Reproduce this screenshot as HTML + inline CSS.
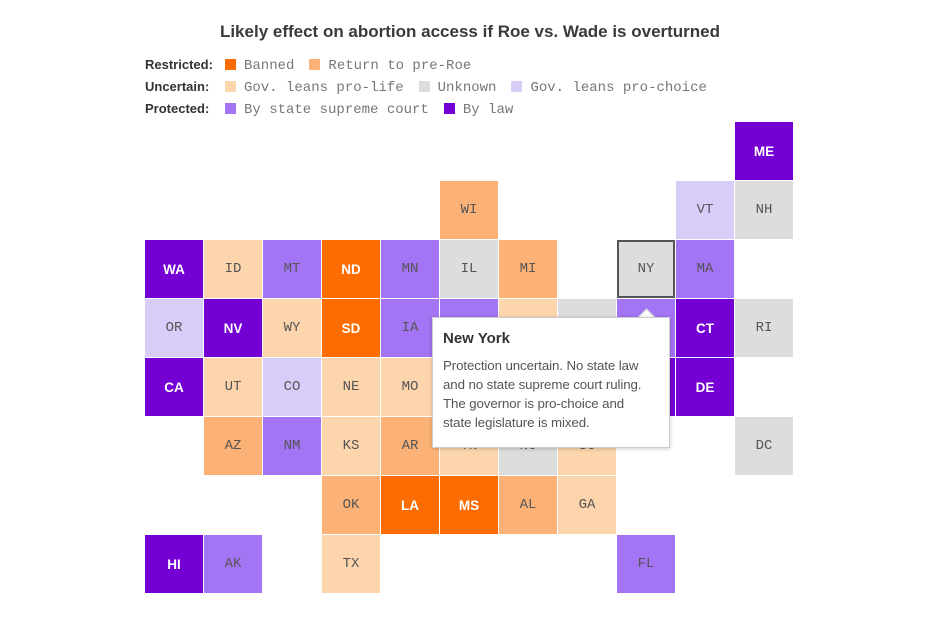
<!DOCTYPE html>
<html><head><meta charset="utf-8">
<style>
body{margin:0;width:930px;height:617px;background:#fff;font-family:"Liberation Sans",sans-serif;position:relative;overflow:hidden}
.title{position:absolute;left:0;width:940px;top:22px;text-align:center;font-size:17px;font-weight:bold;color:#3a3a3a}
.leg{position:absolute;left:145px;font-size:13px;color:#333;height:16px;line-height:16px;white-space:nowrap}
.leg b{font-weight:bold;display:inline-block;width:75px}
.sw{display:inline-block;width:11px;height:11px;margin:0 8px 0 5px;vertical-align:-1px}
.lt{font-family:"Liberation Mono",monospace;font-size:14px;color:#777;margin-right:10px}
.tile{position:absolute;width:58px;height:58px;display:flex;align-items:center;justify-content:center;font-family:"Liberation Mono",monospace;font-size:14px;color:#555;box-sizing:border-box}
.tile.dark{color:#fff;font-family:"Liberation Sans",sans-serif;font-weight:bold;font-size:13.5px}
#tip{position:absolute;left:432px;top:317px;width:238px;height:131px;background:#fff;border:1px solid #ccc;box-shadow:0 1px 4px rgba(0,0,0,.2);box-sizing:border-box;padding:12px 10px;color:#555}
#tip h4{margin:0 0 9px;font-size:15px;color:#333}
#tip p{margin:0;font-size:13.3px;line-height:19px;letter-spacing:-0.1px}
#arrow{position:absolute;left:640px;top:311px;width:12px;height:12px;background:#fff;transform:rotate(45deg);border-left:1px solid #ccc;border-top:1px solid #ccc}
</style></head><body>
<div class="title">Likely effect on abortion access if Roe vs. Wade is overturned</div>
<div class="leg" style="top:57px"><b>Restricted:</b><span class="sw" style="background:#fd6c00"></span><span class="lt">Banned</span><span class="sw" style="background:#fcb276"></span><span class="lt">Return to pre-Roe</span></div>
<div class="leg" style="top:79px"><b>Uncertain:</b><span class="sw" style="background:#fdd5ad"></span><span class="lt">Gov. leans pro-life</span><span class="sw" style="background:#dddddd"></span><span class="lt">Unknown</span><span class="sw" style="background:#d8cdf9"></span><span class="lt">Gov. leans pro-choice</span></div>
<div class="leg" style="top:101px"><b>Protected:</b><span class="sw" style="background:#a374f3"></span><span class="lt">By state supreme court</span><span class="sw" style="background:#7400d4"></span><span class="lt">By law</span></div>
<div id="map"></div>
<div id="arrow"></div>
<div id="tip"><h4>New York</h4><p>Protection uncertain. No state law<br>and no state supreme court ruling.<br>The governor is pro-choice and<br>state legislature is mixed.</p></div>
<script>
const states=["ME","WI","VT","NH","WA","ID","MT","ND","MN","IL","MI","NY","MA","OR","NV","WY","SD","IA","IN","OH","PA","NJ","CT","RI","CA","UT","CO","NE","MO","KY","WV","VA","MD","DE","AZ","NM","KS","AR","TN","NC","SC","DC","OK","LA","MS","AL","GA","HI","AK","TX","FL"];
const cols=[10,5,9,10,0,1,2,3,4,5,6,8,9,0,1,2,3,4,5,6,7,8,9,10,0,1,2,3,4,5,6,7,8,9,1,2,3,4,5,6,7,10,3,4,5,6,7,0,1,3,8];
const rows=[0,1,1,1,2,2,2,2,2,2,2,2,2,3,3,3,3,3,3,3,3,3,3,3,4,4,4,4,4,4,4,4,4,4,5,5,5,5,5,5,5,5,6,6,6,6,6,7,7,7,7];
const status=["law","return","choice","unknown","law","life","court","banned","court","unknown","return","unknown","court","choice","law","life","banned","court","court","life","unknown","court","law","unknown","law","life","choice","life","life","return","life","choice","law","law","return","court","life","return","life","unknown","life","unknown","return","banned","banned","return","life","law","court","life","court"];
const colors={banned:"#fd6c00",return:"#fcb276",life:"#fdd5ad",unknown:"#dddddd",choice:"#d8cdf9",court:"#a374f3",law:"#7400d4"};
const X=c=>145+59*c, Y=r=>122+59*r;
const map=document.getElementById('map');
states.forEach((s,i)=>{
  const d=document.createElement('div');
  d.className='tile'+((status[i]==='law'||status[i]==='banned')?' dark':'');
  d.style.left=X(cols[i])+'px';d.style.top=Y(rows[i])+'px';
  d.style.background=colors[status[i]];
  if(s==='NY')d.style.border='2px solid #555';
  d.textContent=s;
  
  
  map.appendChild(d);
});
</script>
</body></html>
